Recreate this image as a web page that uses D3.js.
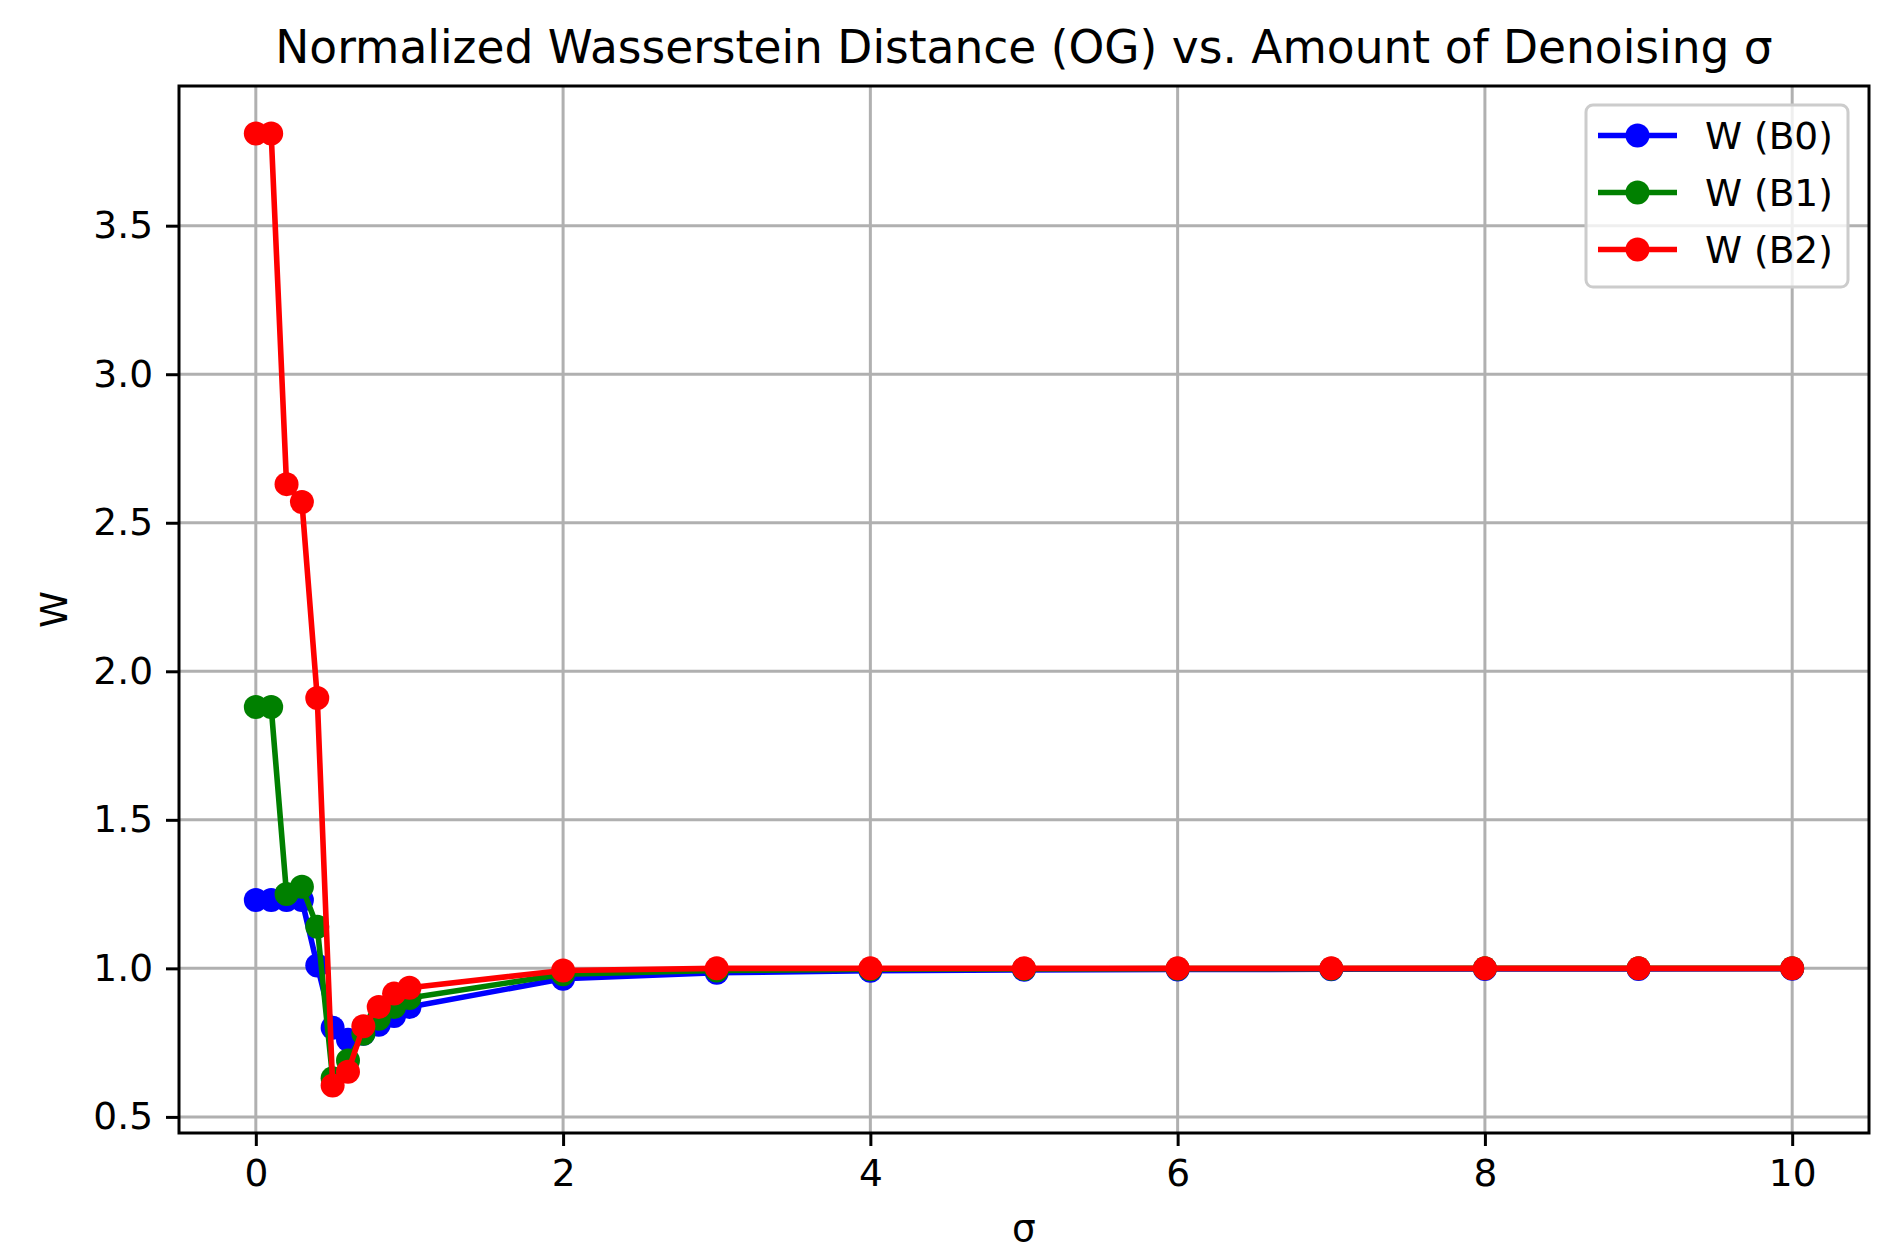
<!DOCTYPE html>
<html>
<head>
<meta charset="utf-8">
<script src="https://cdn.jsdelivr.net/npm/d3@7"></script>
<style>
  body { margin: 0; background: #fff; }
  svg { font-family: "DejaVu Sans", sans-serif; display: block; }
</style>
</head>
<body>
<svg id="chart" width="1894" height="1247"></svg>
<script>
// values
const sigma = [0, 0.1, 0.2, 0.3, 0.4, 0.5, 0.6, 0.7, 0.8, 0.9, 1, 2, 3, 4, 5, 6, 7, 8, 9, 10];
const wB0 = [1.23, 1.23, 1.23, 1.23, 1.01, 0.80, 0.76, 0.78, 0.81, 0.84, 0.87, 0.965, 0.985, 0.992, 0.995, 0.996, 0.997, 0.998, 0.998, 0.999];
const wB1 = [1.88, 1.88, 1.25, 1.275, 1.14, 0.63, 0.69, 0.78, 0.83, 0.87, 0.90, 0.98, 0.993, 0.997, 0.998, 0.999, 0.999, 1.0, 1.0, 1.0];
const wB2 = [3.81, 3.81, 2.63, 2.57, 1.91, 0.606, 0.652, 0.805, 0.87, 0.915, 0.935, 0.993, 1.0, 1.0, 1.0, 1.0, 1.0, 1.0, 1.0, 1.0];
const seriesNames = ["W (B0)", "W (B1)", "W (B2)"];
const seriesColors = ["blue", "green", "red"];
const xTicks = [0, 2, 4, 6, 8, 10];
const yTicks = [0.5, 1.0, 1.5, 2.0, 2.5, 3.0, 3.5];
const title = "Normalized Wasserstein Distance (OG) vs. Amount of Denoising σ";
const xLabel = "σ";
const yLabel = "W";

const svg = d3.select("#chart");
const plotLeft = 179, plotRight = 1869, plotTop = 86, plotBottom = 1133;
const markerR = 12;

const series = [wB0, wB1, wB2].map((vals, i) => ({
  name: seriesNames[i],
  color: seriesColors[i],
  points: vals.map((v, j) => ({x: sigma[j], y: v}))
}));

// matplotlib-like 5% margins
const xExt = d3.extent(sigma);
const yExt = d3.extent([].concat(wB0, wB1, wB2));
const xPad = (xExt[1] - xExt[0]) * 0.05;
const yPad = (yExt[1] - yExt[0]) * 0.05;

const x = d3.scaleLinear().domain([xExt[0] - xPad, xExt[1] + xPad]).range([plotLeft, plotRight]);
const y = d3.scaleLinear().domain([yExt[0] - yPad, yExt[1] + yPad]).range([plotBottom, plotTop]);

// grid
svg.append("g").selectAll("line").data(xTicks).enter().append("line")
  .attr("x1", d => x(d)).attr("x2", d => x(d))
  .attr("y1", plotTop).attr("y2", plotBottom)
  .attr("stroke", "#b0b0b0").attr("stroke-width", 3);
svg.append("g").selectAll("line").data(yTicks).enter().append("line")
  .attr("x1", plotLeft).attr("x2", plotRight)
  .attr("y1", d => y(d)).attr("y2", d => y(d))
  .attr("stroke", "#b0b0b0").attr("stroke-width", 3);

// axes
const xAxis = svg.append("g")
  .attr("transform", `translate(0,${plotBottom})`)
  .call(d3.axisBottom(x).tickValues(xTicks).tickFormat(d3.format("d")).tickSize(13).tickPadding(13));
const yAxis = svg.append("g")
  .attr("transform", `translate(${plotLeft},0)`)
  .call(d3.axisLeft(y).tickValues(yTicks).tickFormat(d3.format(".1f")).tickSize(13).tickPadding(13));
[xAxis, yAxis].forEach(a => {
  a.select(".domain").remove();
  a.selectAll(".tick line").attr("stroke", "#000").attr("stroke-width", 3);
  a.selectAll(".tick text").attr("fill", "#000")
    .style("font-size", "37.5px").style("font-family", "DejaVu Sans");
});

// lines and markers
const line = d3.line().x(d => x(d.x)).y(d => y(d.y));
series.forEach(s => {
  svg.append("path")
    .datum(s.points)
    .attr("d", line)
    .attr("fill", "none")
    .attr("stroke", s.color)
    .attr("stroke-width", 5.6)
    .attr("stroke-linejoin", "round")
    .attr("stroke-linecap", "square");
  svg.append("g").selectAll("circle").data(s.points).enter().append("circle")
    .attr("cx", d => x(d.x))
    .attr("cy", d => y(d.y))
    .attr("r", markerR)
    .attr("fill", s.color);
});

// frame
svg.append("rect")
  .attr("x", plotLeft).attr("y", plotTop)
  .attr("width", plotRight - plotLeft).attr("height", plotBottom - plotTop)
  .attr("fill", "none").attr("stroke", "#000").attr("stroke-width", 3);

// title and labels
svg.append("text")
  .attr("x", (plotLeft + plotRight) / 2).attr("y", 63)
  .attr("text-anchor", "middle")
  .style("font-size", "45.5px")
  .text(title);
svg.append("text")
  .attr("x", (plotLeft + plotRight) / 2).attr("y", 1241)
  .attr("text-anchor", "middle")
  .style("font-size", "37.5px")
  .text(xLabel);
svg.append("text")
  .attr("transform", `translate(67,${(plotTop + plotBottom) / 2}) rotate(-90)`)
  .attr("text-anchor", "middle")
  .style("font-size", "37.5px")
  .text(yLabel);

// legend
const legend = svg.append("g").attr("transform", "translate(1586,105)");
legend.append("rect")
  .attr("width", 262).attr("height", 182)
  .attr("rx", 7).attr("ry", 7)
  .attr("fill", "#fff").attr("fill-opacity", 0.8)
  .attr("stroke", "#cccccc").attr("stroke-width", 3);
series.forEach((s, i) => {
  const row = legend.append("g").attr("transform", `translate(0,${30.5 + i * 57})`);
  row.append("line")
    .attr("x1", 12).attr("x2", 91)
    .attr("stroke", s.color).attr("stroke-width", 5.6);
  row.append("circle")
    .attr("cx", 51.5).attr("r", markerR).attr("fill", s.color);
  row.append("text")
    .attr("x", 119).attr("dy", "0.36em")
    .style("font-size", "37.5px")
    .text(s.name);
});
</script>
</body>
</html>
